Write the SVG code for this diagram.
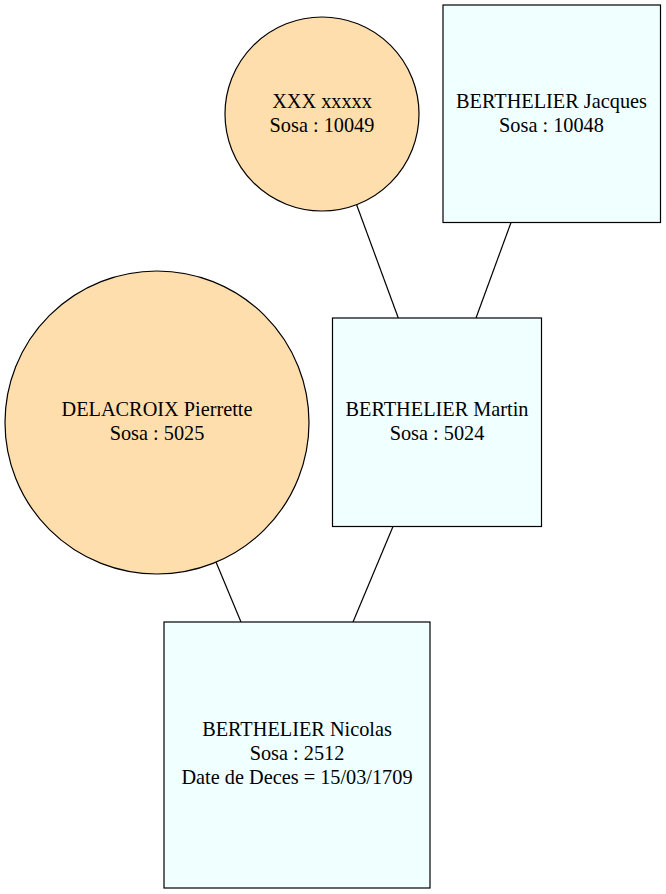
<svg xmlns="http://www.w3.org/2000/svg" width="666" height="894" viewBox="0 0 666 894">
<style>
.f{fill:#ffdead;stroke:#000;stroke-width:1.2}
.m{fill:#f0ffff;stroke:#000;stroke-width:1.2}
text{font-family:'Liberation Serif','DejaVu Serif','Times New Roman',Times,serif;font-size:20.3px;fill:#000;text-anchor:middle}
.e{stroke:#000;stroke-width:1.2;fill:none}
</style>
<rect width="666" height="894" fill="#fff"/>
<g id="edges">
<line class="e" x1="356.7" y1="205" x2="398.3" y2="318"/>
<line class="e" x1="511" y1="222.5" x2="476" y2="318"/>
<line class="e" x1="216" y1="562" x2="241" y2="622"/>
<line class="e" x1="393" y1="526.5" x2="353" y2="622"/>
</g>
<g id="n10049">
<circle class="f" cx="322" cy="114" r="97"/>
<text x="322" y="108">XXX xxxxx</text>
<text x="322" y="132">Sosa : 10049</text>
</g>
<g id="n10048">
<rect class="m" x="443" y="5" width="217.5" height="217.5"/>
<text x="551.5" y="107.5">BERTHELIER Jacques</text>
<text x="551.5" y="131.5">Sosa : 10048</text>
</g>
<g id="n5025">
<ellipse class="f" cx="157" cy="422.5" rx="152" ry="151.5"/>
<text x="157" y="416">DELACROIX Pierrette</text>
<text x="157" y="440">Sosa : 5025</text>
</g>
<g id="n5024">
<rect class="m" x="332.5" y="318" width="209" height="208.5"/>
<text x="437" y="416">BERTHELIER Martin</text>
<text x="437" y="440">Sosa : 5024</text>
</g>
<g id="n2512">
<rect class="m" x="164" y="622" width="266" height="266"/>
<text x="297" y="736">BERTHELIER Nicolas</text>
<text x="297" y="760">Sosa : 2512</text>
<text x="297" y="784">Date de Deces = 15/03/1709</text>
</g>
</svg>
